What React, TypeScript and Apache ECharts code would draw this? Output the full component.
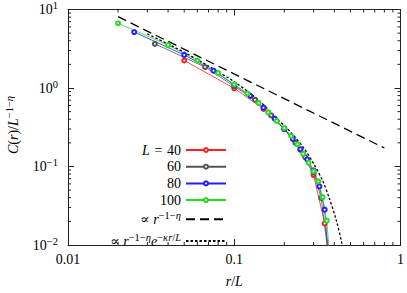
import React, { useEffect, useRef } from 'react';
import * as echarts from 'echarts';

// ---- data ----
const L40_X = [0.05, 0.1, 0.15, 0.2, 0.25, 0.3, 0.35, 0.4];
const L40_Y = [2.24, 0.99, 0.542, 0.299, 0.163, 0.0778, 0.0188, 0.0032];

const L60_X = [0.0333, 0.0667, 0.1, 0.1333, 0.1667, 0.2, 0.2333, 0.2667, 0.3, 0.3333, 0.3667];
const L60_Y = [3.65, 1.85, 1.05, 0.708, 0.447, 0.302, 0.2, 0.132, 0.0832, 0.0398, 0.0079];

const L80_X = [0.025, 0.05, 0.075, 0.1, 0.125, 0.15, 0.175, 0.2, 0.225, 0.25, 0.275, 0.3, 0.325, 0.35, 0.375];
const L80_Y = [5.16, 2.64, 1.66, 1.1, 0.794, 0.562, 0.407, 0.302, 0.224, 0.166, 0.123, 0.0891, 0.0557, 0.0282, 0.004];

const L100_X = [0.02, 0.04, 0.06, 0.08, 0.1, 0.12, 0.14, 0.16, 0.18, 0.2, 0.22, 0.24, 0.26, 0.28, 0.3, 0.32, 0.34, 0.36, 0.38];
const L100_Y = [6.68, 3.52, 2.24, 1.55, 1.11, 0.851, 0.646, 0.49, 0.38, 0.309, 0.245, 0.191, 0.145, 0.112, 0.0871, 0.0646, 0.0407, 0.0204, 0.005];

const POW_X = [0.02, 0.8];
const POW_Y = [8.1, 0.172];

const POWEXP_X = [0.03, 0.05, 0.07, 0.1, 0.14, 0.18, 0.22, 0.264, 0.3, 0.34, 0.372, 0.41, 0.446, 0.47];
const POWEXP_Y = [4.9, 2.85, 1.9, 1.2, 0.7, 0.41, 0.27, 0.168, 0.109, 0.066, 0.04, 0.021, 0.01, 0.005];

const X_TICK_LABELS = ['0.01', '0.1', '1'];
const X_DECADES = [0.01, 0.1];
const Y_DECADES = [0.01, 0.1, 1];
const MINOR_MULT = [2, 3, 4, 5, 6, 7, 8, 9];

const FONT = 'Liberation Serif, DejaVu Serif, serif';

const zip = (xs: number[], ys: number[]) => xs.map((x, i) => [x, ys[i]]);

const rich: any = {
  n: { fontFamily: FONT, fontSize: 14, lineHeight: 16, color: '#000' },
  i: { fontFamily: FONT, fontSize: 14, fontStyle: 'italic', lineHeight: 16, color: '#000' },
  s: { fontFamily: FONT, fontSize: 10.5, lineHeight: 8, padding: [0, 0, 8, 0], color: '#000' },
  si: { fontFamily: FONT, fontSize: 10.5, fontStyle: 'italic', lineHeight: 8, padding: [0, 0, 8, 0], color: '#000' },
};

const LEGEND_TEXT: Record<string, string> = {
  L40: '{i|L}{n|\u2004=\u200440}',
  L60: '{n|60}',
  L80: '{n|80}',
  L100: '{n|100}',
  pow: '{n|∝ }{i|r}{s|−1−}{si|η}',
  powexp: '{n|∝ }{i|r}{s|−1−}{si|η}{i|e}{s|−}{si|κr}{s|/}{si|L}',
};

const Y_NAME = '{i|C}{n|(}{i|r}{n|)/}{i|L}{s|−1−}{si|η}';

export default function App() {
  const ref = useRef<HTMLDivElement>(null);
  useEffect(() => {
    if (!ref.current) return;
    const chart = echarts.init(ref.current, undefined, { renderer: 'svg' });

    const minorData: number[][] = [];
    X_DECADES.forEach((d) => MINOR_MULT.forEach((m) => minorData.push([d * m, 1, 0])));
    Y_DECADES.forEach((d) => MINOR_MULT.forEach((m) => minorData.push([0.1, d * m, 1])));

    const AX = '#222';
    const dataSeries = (name: string, xs: number[], ys: number[], color: string) => ({
      name,
      type: 'line',
      data: zip(xs, ys),
      symbol: 'emptyCircle',
      symbolSize: 4,
      clip: true,
      lineStyle: { color, width: 0.8 },
      itemStyle: { color, borderWidth: 0.8 },
      emphasis: { disabled: true },
    });

    chart.setOption({
      animation: false,
      grid: { left: 68, right: 3, top: 8, bottom: 45 },
      graphic: [
        {
          type: 'text',
          x: 13,
          y: 125,
          rotation: Math.PI / 2,
          style: { text: Y_NAME, rich, align: 'center', verticalAlign: 'middle' },
          silent: true,
        },
      ],
      legend: {
        orient: 'vertical',
        align: 'right',
        right: 180,
        top: 143,
        padding: 0,
        itemWidth: 40,
        itemHeight: 5,
        itemGap: 2.7,
        data: [
          'L40',
          'L60',
          'L80',
          'L100',
          { name: 'pow', itemStyle: { opacity: 0 } },
          { name: 'powexp', itemStyle: { opacity: 0 } },
        ],
        formatter: (name: string) => LEGEND_TEXT[name],
        textStyle: { rich },
        selectedMode: false,
      },
      xAxis: [
        {
          type: 'log',
          logBase: 10,
          min: 0.01,
          max: 1,
          name: '{i|r}{n|/}{i|L}',
          nameLocation: 'middle',
          nameGap: 28,
          nameTextStyle: { rich },
          axisLine: { lineStyle: { color: AX, width: 1 } },
          axisTick: { inside: true, length: 6, lineStyle: { color: AX } },
          splitLine: { show: false },
          axisLabel: {
            margin: 7,
            fontFamily: FONT,
            fontSize: 14,
            color: '#000',
            formatter: (v: number) => X_TICK_LABELS[Math.round(Math.log10(v)) + 2],
          },
        },
        {
          type: 'log',
          logBase: 10,
          min: 0.01,
          max: 1,
          position: 'top',
          axisLine: { lineStyle: { color: AX, width: 1 } },
          axisTick: { inside: true, length: 6, lineStyle: { color: AX } },
          axisLabel: { show: false },
          splitLine: { show: false },
        },
      ],
      yAxis: [
        {
          type: 'log',
          logBase: 10,
          min: 0.01,
          max: 10,
          axisLine: { lineStyle: { color: AX, width: 1 } },
          axisTick: { inside: true, length: 6, lineStyle: { color: AX } },
          splitLine: { show: false },
          axisLabel: {
            margin: 10,
            rich,
            formatter: (v: number) => {
              const e = Math.round(Math.log10(v));
              return '{n|10}{s|' + (e < 0 ? '−' + -e : String(e)) + '}';
            },
          },
        },
        {
          type: 'log',
          logBase: 10,
          min: 0.01,
          max: 10,
          position: 'right',
          axisLine: { lineStyle: { color: AX, width: 1 } },
          axisTick: { inside: true, length: 6, lineStyle: { color: AX } },
          axisLabel: { show: false },
          splitLine: { show: false },
        },
      ],
      series: [
        dataSeries('L40', L40_X, L40_Y, '#ff2020'),
        dataSeries('L60', L60_X, L60_Y, '#555555'),
        dataSeries('L80', L80_X, L80_Y, '#2020ff'),
        dataSeries('L100', L100_X, L100_Y, '#20dd20'),
        {
          name: 'pow',
          type: 'line',
          data: zip(POW_X, POW_Y),
          symbol: 'none',
          lineStyle: { color: '#000', width: 1.3, type: [9, 5] },
          itemStyle: { color: '#000' },
          emphasis: { disabled: true },
        },
        {
          name: 'powexp',
          type: 'line',
          data: zip(POWEXP_X, POWEXP_Y),
          symbol: 'none',
          smooth: 0.3,
          clip: true,
          lineStyle: { color: '#000', width: 1.3, type: [2.5, 2] },
          itemStyle: { color: '#000' },
          emphasis: { disabled: true },
        },
        {
          type: 'custom',
          silent: true,
          clip: false,
          data: minorData,
          renderItem: (params: any, api: any) => {
            const cs = params.coordSys;
            const kind = api.value(2);
            const style = { stroke: AX, lineWidth: 1 };
            if (kind === 0) {
              const px = api.coord([api.value(0), 1])[0];
              return {
                type: 'group',
                children: [
                  { type: 'line', shape: { x1: px, y1: cs.y + cs.height, x2: px, y2: cs.y + cs.height - 3 }, style },
                  { type: 'line', shape: { x1: px, y1: cs.y, x2: px, y2: cs.y + 3 }, style },
                ],
              };
            }
            const py = api.coord([0.1, api.value(1)])[1];
            return {
              type: 'group',
              children: [
                { type: 'line', shape: { x1: cs.x, y1: py, x2: cs.x + 3, y2: py }, style },
                { type: 'line', shape: { x1: cs.x + cs.width, y1: py, x2: cs.x + cs.width - 3, y2: py }, style },
              ],
            };
          },
        },
      ],
    });
    return () => chart.dispose();
  }, []);
  return <div ref={ref} style={{ position: 'absolute', left: 0, top: 0, width: 407, height: 293 }} />;
}
